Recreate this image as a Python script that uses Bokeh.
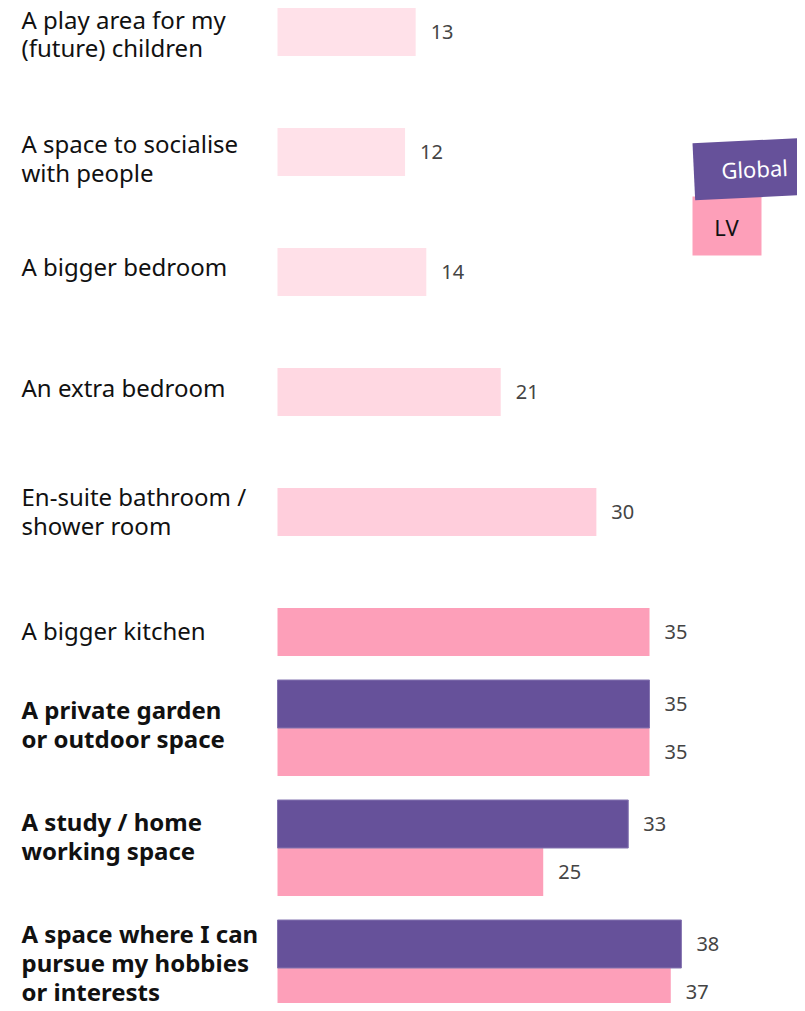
import math
from bokeh.plotting import figure
from bokeh.models import Range1d, Label, PolyAnnotation, ColumnDataSource
from bokeh.core.properties import value
from bokeh.embed import file_html
from bokeh.resources import INLINE

categories = [
    "A play area for my\n(future) children",
    "A space to socialise\nwith people",
    "A bigger bedroom",
    "An extra bedroom",
    "En-suite bathroom /\nshower room",
    "A bigger kitchen",
    "A private garden\nor outdoor space",
    "A study / home\nworking space",
    "A space where I can\npursue my hobbies\nor interests",
]
lv_values = [13, 12, 14, 21, 30, 35, 35, 25, 37]
global_values = [None, None, None, None, None, None, 35, 33, 38]
lv_colors = ["#FFE1E9", "#FFE1E9", "#FFE0E8", "#FFD8E2", "#FFCEDC",
             "#FD9FB9", "#FD9FB9", "#FD9FB9", "#FD9FB9"]
bold_rows = [False, False, False, False, False, False, True, True, True]
series_names = ["Global", "LV"]

# layout nudges (pixels) for the category labels, relative to their bar(s)
label_nudge_px = [1.5, 5.8, -6, -4.3, -1.2, -1.5, -4, -12.2, -5.5]

PURPLE = "#66519A"
PINK = "#FD9FB9"

W, H = 797, 1003
PX = 10.629          # pixels per unit
X0 = 277             # canvas px of zero
ROW = 120.0          # pixels per row
Y0 = 31.5            # canvas px of first row centre

p = figure(width=W, height=H, output_backend="svg", toolbar_location=None,
           x_range=Range1d(-X0 / PX, (W - X0) / PX),
           y_range=Range1d((H - Y0) / ROW, -Y0 / ROW),
           min_border=0, outline_line_color=None)
p.axis.visible = False
p.grid.visible = False
p.background_fill_color = "white"
p.border_fill_color = "white"

rows = list(range(len(categories)))
BH = 0.4

lv_src = ColumnDataSource(dict(y=rows, v=lv_values, c=lv_colors,
                               t=[str(v) for v in lv_values]))
p.hbar(y="y", left=0, right="v", height=BH, fill_color="c", line_color=None, source=lv_src)
p.text(x="v", y="y", text="t", source=lv_src, x_offset=15,
       text_font=value("Noto Sans"), text_font_size="20px", text_color="#444444",
       text_baseline="middle", text_align="left")

g_rows = [r - BH for r, g in zip(rows, global_values) if g is not None]
g_vals = [g for g in global_values if g is not None]
g_src = ColumnDataSource(dict(y=g_rows, v=g_vals, t=[str(v) for v in g_vals]))
p.hbar(y="y", left=0, right="v", height=BH, fill_color=PURPLE, line_color="#8474B0",
       line_width=1, source=g_src)
p.text(x="v", y="y", text="t", source=g_src, x_offset=15,
       text_font=value("Noto Sans"), text_font_size="20px", text_color="#444444",
       text_baseline="middle", text_align="left")

# category labels
lab_x = (21 - X0) / PX
norm_y, norm_t, bold_y, bold_t = [], [], [], []
for r, cat, b, g, nud in zip(rows, categories, bold_rows, global_values, label_nudge_px):
    yy = (r - BH / 2 if g is not None else r) + nud / ROW
    if b:
        bold_y.append(yy); bold_t.append(cat)
    else:
        norm_y.append(yy); norm_t.append(cat)
p.text(x=lab_x, y=norm_y, text=norm_t, text_font=value("Noto Sans"),
       text_font_size="24px", text_color="#111111", text_baseline="middle",
       text_align="left", text_line_height=0.87)
p.text(x=lab_x, y=bold_y, text=bold_t, text_font=value("Noto Sans"),
       text_font_size="24px", text_font_style="bold", text_color="#111111",
       text_baseline="middle", text_align="left", text_line_height=0.87)

# legend (picture px -> data)
def dx(px):
    return (px - X0) / PX

def dy(py):
    return (py - Y0) / ROW

pink_box = PolyAnnotation(xs=[dx(692), dx(761), dx(761), dx(692)],
                          ys=[dy(196), dy(196), dy(255), dy(255)],
                          fill_color=PINK, fill_alpha=1, line_color=None)
p.add_layout(pink_box)
ang = math.radians(2.7)
tl = (692, 142.7)
wbox, hbox = 130, 57
ux, uy = math.cos(ang), -math.sin(ang)
vx, vy = math.sin(ang), math.cos(ang)
pts = [tl,
       (tl[0] + wbox * ux, tl[1] + wbox * uy),
       (tl[0] + wbox * ux + hbox * vx, tl[1] + wbox * uy + hbox * vy),
       (tl[0] + hbox * vx, tl[1] + hbox * vy)]
purple_box = PolyAnnotation(xs=[dx(a) for a, b in pts], ys=[dy(b) for a, b in pts],
                            fill_color=PURPLE, fill_alpha=1, line_color=None)
p.add_layout(purple_box)
p.add_layout(Label(x=dx(754), y=dy(168), text=series_names[0], angle=ang,
                   text_font="Noto Sans", text_font_size="22px", text_color="white",
                   text_align="center", text_baseline="middle"))
p.add_layout(Label(x=dx(726), y=dy(226), text=series_names[1],
                   text_font="Noto Sans", text_font_size="22px", text_color="#111111",
                   text_align="center", text_baseline="middle"))

open("out.html", "w").write(file_html(p, INLINE))
